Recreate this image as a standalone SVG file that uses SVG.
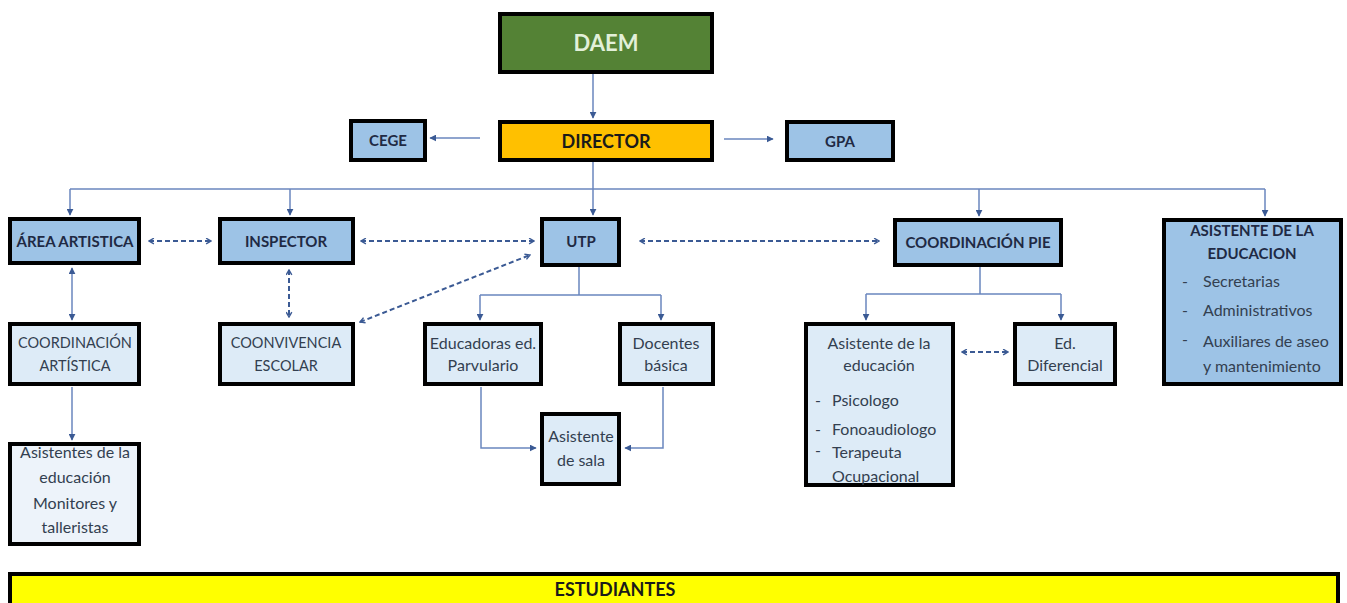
<svg xmlns="http://www.w3.org/2000/svg" width="1347" height="603" viewBox="0 0 1347 603">
<defs>
<marker id="ah" viewBox="0 0 10 10" refX="9" refY="5" markerWidth="7" markerHeight="7" orient="auto-start-reverse" markerUnits="userSpaceOnUse">
<path d="M0,0 L10,5 L0,10 z" fill="#3B5A94"/>
</marker>
<marker id="ch" viewBox="0 0 10 10" refX="8" refY="5" markerWidth="7" markerHeight="7" orient="auto-start-reverse" markerUnits="userSpaceOnUse">
<path d="M1,1 L8,5 L1,9" fill="none" stroke="#3B5A94" stroke-width="2"/>
</marker>
</defs>
<style>
.box{stroke:#000;stroke-width:4}
.mid{fill:#9DC3E6}
.lite{fill:#DDEBF7}
.pale{fill:#EDF3FA}
.h{font-family:Lato,"Liberation Sans",sans-serif;font-weight:bold;font-size:15px;fill:#1F2A44;text-anchor:middle}
.t{font-family:Lato,"Liberation Sans",sans-serif;font-size:16px;fill:#333F50;text-anchor:middle}
.tu{font-family:Lato,"Liberation Sans",sans-serif;font-size:14.5px;fill:#333F50;text-anchor:middle}
.tl{font-family:Lato,"Liberation Sans",sans-serif;font-size:16px;fill:#333F50}
.c{fill:none;stroke:#6A86BE;stroke-width:1.5}
.d{fill:none;stroke:#3B5A94;stroke-width:2;stroke-dasharray:5,3}
</style>
<rect width="1347" height="603" fill="#fff"/>
<g id="connectors">
<path class="c" d="M593,74 V118" marker-end="url(#ah)"/>
<path class="c" d="M480,138 H430" marker-end="url(#ah)"/>
<path class="c" d="M724,139 H773" marker-end="url(#ah)"/>
<path class="c" d="M593,162 V215"  marker-end="url(#ah)"/>
<path class="c" d="M70,189 H1265"/>
<path class="c" d="M70,189 V215" marker-end="url(#ah)"/>
<path class="c" d="M290,189 V215" marker-end="url(#ah)"/>
<path class="c" d="M979,189 V216" marker-end="url(#ah)"/>
<path class="c" d="M1265,189 V216" marker-end="url(#ah)"/>
<path class="c" d="M72,268 V320" marker-start="url(#ah)" marker-end="url(#ah)"/>
<path class="c" d="M72,387 V440" marker-end="url(#ah)"/>
<path class="d" d="M149,241 H211" marker-start="url(#ch)" marker-end="url(#ch)"/>
<path class="d" d="M361,241 H534" marker-start="url(#ch)" marker-end="url(#ch)"/>
<path class="d" d="M640,241 H879" marker-start="url(#ch)" marker-end="url(#ch)"/>
<path class="d" d="M289,270 V317" marker-start="url(#ch)" marker-end="url(#ch)"/>
<path class="d" d="M360,322 L530,255" marker-start="url(#ch)" marker-end="url(#ch)"/>
<path class="c" d="M579,267 V295 M480,295 H661"/>
<path class="c" d="M480,295 V320" marker-end="url(#ah)"/>
<path class="c" d="M661,295 V320" marker-end="url(#ah)"/>
<path class="c" d="M481,387 V448 H536" marker-end="url(#ah)"/>
<path class="c" d="M663,387 V448 H625" marker-end="url(#ah)"/>
<path class="c" d="M980,267 V294 M866,294 H1061"/>
<path class="c" d="M866,294 V320" marker-end="url(#ah)"/>
<path class="c" d="M1061,294 V320" marker-end="url(#ah)"/>
<path class="d" d="M962,352 H1008" marker-start="url(#ch)" marker-end="url(#ch)"/>
</g>
<g id="daem">
<rect class="box" x="500" y="14" width="212" height="58" fill="#548235"/>
<text x="606" y="51" font-family="Lato,'Liberation Sans',sans-serif" font-weight="bold" font-size="22" fill="#E2F0D9" text-anchor="middle">DAEM</text>
</g>
<g id="director">
<rect class="box" x="500" y="122" width="212" height="38" fill="#FFC000"/>
<text x="606" y="148" font-family="Lato,'Liberation Sans',sans-serif" font-weight="bold" font-size="18" fill="#1A1A1A" text-anchor="middle">DIRECTOR</text>
</g>
<g id="cege">
<rect class="box mid" x="351" y="121" width="74" height="39"/>
<text class="h" x="388" y="146">CEGE</text>
</g>
<g id="gpa">
<rect class="box mid" x="787" y="122" width="106" height="38"/>
<text class="h" x="840" y="147">GPA</text>
</g>
<g id="area-artistica">
<rect class="box mid" x="10" y="219" width="129" height="44"/>
<text class="h" x="75" y="247">ÁREA ARTISTICA</text>
</g>
<g id="inspector">
<rect class="box mid" x="220" y="219" width="133" height="44"/>
<text class="h" x="286" y="247">INSPECTOR</text>
</g>
<g id="utp">
<rect class="box mid" x="542" y="219" width="77" height="46"/>
<text class="h" x="581" y="247">UTP</text>
</g>
<g id="coordinacion-pie">
<rect class="box mid" x="895" y="220" width="166" height="45"/>
<text class="h" x="978" y="248">COORDINACIÓN PIE</text>
</g>
<g id="asistente-educacion">
<rect class="box mid" x="1164" y="220" width="177" height="164"/>
<text class="h" x="1252" y="236">ASISTENTE DE LA</text>
<text class="h" x="1252" y="259">EDUCACION</text>
<text class="tl" x="1182" y="287">-</text>
<text class="tl" x="1203" y="287">Secretarias</text>
<text class="tl" x="1182" y="316">-</text>
<text class="tl" x="1203" y="316">Administrativos</text>
<text class="tl" x="1182" y="345">-</text>
<text class="tl" x="1203" y="347">Auxiliares de aseo</text>
<text class="tl" x="1203" y="372">y mantenimiento</text>
</g>
<g id="coordinacion-artistica">
<rect class="box lite" x="10" y="324" width="129" height="60"/>
<text class="tu" x="75" y="348">COORDINACIÓN</text>
<text class="tu" x="75" y="371">ARTÍSTICA</text>
</g>
<g id="coonvivencia">
<rect class="box lite" x="220" y="324" width="133" height="60"/>
<text class="tu" x="286" y="348">COONVIVENCIA</text>
<text class="tu" x="286" y="371">ESCOLAR</text>
</g>
<g id="educadoras">
<rect class="box lite" x="425" y="324" width="116" height="60"/>
<text class="t" x="483" y="349">Educadoras ed.</text>
<text class="t" x="483" y="371">Parvulario</text>
</g>
<g id="docentes">
<rect class="box lite" x="620" y="324" width="93" height="60"/>
<text class="t" x="666" y="349">Docentes</text>
<text class="t" x="666" y="371">básica</text>
</g>
<g id="asistente-sala">
<rect class="box lite" x="542" y="414" width="77" height="70"/>
<text class="t" x="581" y="442">Asistente</text>
<text class="t" x="581" y="466">de sala</text>
</g>
<g id="asistente-pie">
<rect class="box lite" x="806" y="324" width="147" height="161"/>
<text class="t" x="879" y="349">Asistente de la</text>
<text class="t" x="879" y="371">educación</text>
<text class="tl" x="815" y="406">-</text>
<text class="tl" x="832" y="406">Psicologo</text>
<text class="tl" x="815" y="435">-</text>
<text class="tl" x="832" y="435">Fonoaudiologo</text>
<text class="tl" x="815" y="456">-</text>
<text class="tl" x="832" y="458">Terapeuta</text>
<text class="tl" x="832" y="482">Ocupacional</text>
</g>
<g id="ed-diferencial">
<rect class="box lite" x="1015" y="324" width="100" height="60"/>
<text class="t" x="1065" y="349">Ed.</text>
<text class="t" x="1065" y="371">Diferencial</text>
</g>
<g id="asistentes-monitores">
<rect class="box pale" x="10" y="444" width="129" height="100"/>
<text class="t" x="75" y="458">Asistentes de la</text>
<text class="t" x="75" y="483">educación</text>
<text class="t" x="75" y="509">Monitores y</text>
<text class="t" x="75" y="533">talleristas</text>
</g>
<g id="estudiantes">
<rect class="box" x="10" y="574" width="1328" height="32" fill="#FFFF00"/>
<text x="615" y="596" font-family="Lato,'Liberation Sans',sans-serif" font-weight="bold" font-size="18" fill="#1A1A1A" text-anchor="middle">ESTUDIANTES</text>
</g>
</svg>
